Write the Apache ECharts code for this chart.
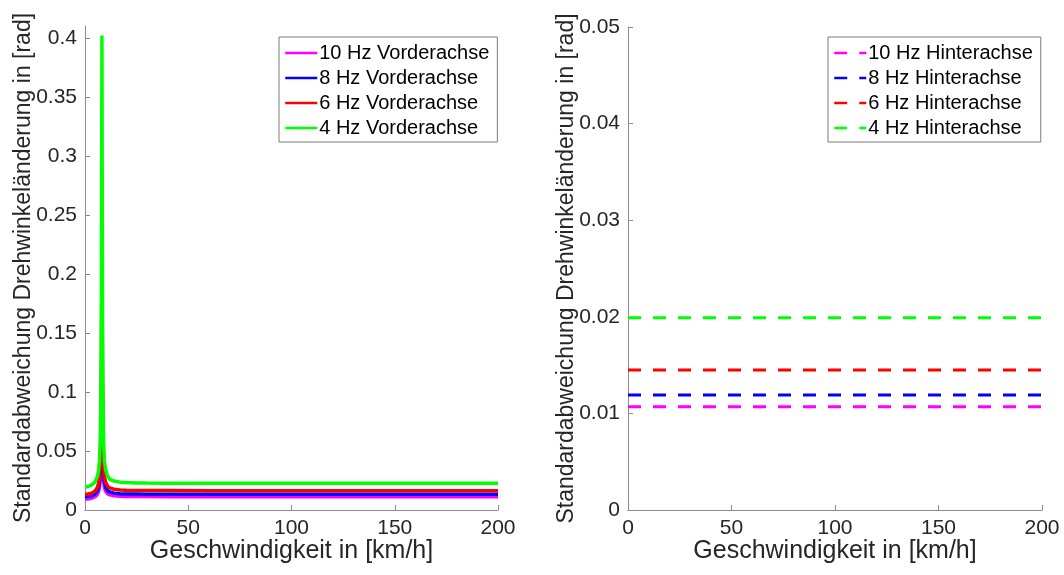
<!DOCTYPE html>
<html>
<head>
<meta charset="utf-8">
<script src="https://cdn.jsdelivr.net/npm/echarts@6/dist/echarts.min.js"></script>
<style>
  html, body { margin: 0; padding: 0; background: #fff; }
  #chart { width: 1064px; height: 575px; }
</style>
</head>
<body>
<div id="chart"></div>
<script>
// Geschwindigkeit (km/h), Stützstellen der Vorderachs-Kurven
const speeds = [0, 1, 2, 3, 4, 5, 6, 6.5, 7, 7.4, 7.7, 7.9, 8.05, 8.2, 8.35, 8.5, 8.7, 9, 9.4, 10, 11, 12, 14, 17, 20, 25, 30, 40, 60, 100, 150, 200]

// Vorderachse (links)
const front10 = [0.0093, 0.0094, 0.0096, 0.0099, 0.0105, 0.0114, 0.0132, 0.0152, 0.019, 0.026, 0.038, 0.060, 0.085, 0.100, 0.085, 0.060, 0.038, 0.025, 0.0190, 0.0160, 0.0137, 0.0128, 0.0121, 0.0117, 0.0115, 0.0114, 0.0114, 0.0113, 0.0113, 0.0113, 0.0113, 0.0113]
const front8 = [0.0113, 0.0114, 0.0116, 0.0120, 0.0127, 0.0138, 0.0160, 0.0185, 0.023, 0.032, 0.048, 0.078, 0.115, 0.140, 0.115, 0.078, 0.048, 0.031, 0.0230, 0.0192, 0.0163, 0.0152, 0.0143, 0.0138, 0.0136, 0.0135, 0.0134, 0.0134, 0.0133, 0.0133, 0.0133, 0.0133]
const front6 = [0.0133, 0.0134, 0.0137, 0.0142, 0.0150, 0.0163, 0.0192, 0.0222, 0.028, 0.040, 0.062, 0.105, 0.165, 0.205, 0.165, 0.105, 0.062, 0.038, 0.028, 0.0235, 0.0200, 0.0187, 0.0176, 0.0170, 0.0168, 0.0166, 0.0165, 0.0165, 0.0164, 0.0164, 0.0164, 0.0164]
const front4 = [0.0195, 0.0197, 0.0202, 0.0210, 0.0222, 0.0242, 0.0285, 0.0330, 0.0420, 0.060, 0.095, 0.160, 0.270, 0.402, 0.270, 0.160, 0.095, 0.058, 0.042, 0.034, 0.0285, 0.0262, 0.0245, 0.0236, 0.0232, 0.0229, 0.0228, 0.0227, 0.0226, 0.0226, 0.0226, 0.0226]

// Hinterachse (rechts), konstant über der Geschwindigkeit
const rearSpeeds = [0, 200]
const rear10 = [0.0107, 0.0107]
const rear8 = [0.0119, 0.0119]
const rear6 = [0.0145, 0.0145]
const rear4 = [0.0199, 0.0199]

const freqs = ['10 Hz', '8 Hz', '6 Hz', '4 Hz']
const colors = ['#ff00ff', '#0000ff', '#ff0000', '#00ff00']

const xTicks = [0, 50, 100, 150, 200]
const leftYTicks = [0, 0.05, 0.1, 0.15, 0.2, 0.25, 0.3, 0.35, 0.4]
const rightYTicks = [0, 0.01, 0.02, 0.03, 0.04, 0.05]

const font = 'Liberation Sans, Arial, Helvetica, sans-serif'
const textColor = '#262626'
const axisGray = '#8c8c8c'

const chart = echarts.init(document.getElementById('chart'))

function pairs(xs, ys) {
  return xs.map((x, i) => [x, ys[i]])
}

function xAxis(gridIndex) {
  return {
    type: 'value',
    gridIndex: gridIndex,
    min: 0,
    max: 200,
    interval: 50,
    name: 'Geschwindigkeit in [km/h]',
    nameLocation: 'middle',
    nameGap: 29,
    nameMoveOverlap: false,
    nameTextStyle: { fontFamily: font, fontSize: 25, color: textColor },
    axisLine: { show: true, lineStyle: { color: axisGray, width: 1 } },
    axisTick: { show: true, inside: true, length: 5, lineStyle: { color: axisGray } },
    axisLabel: {
      fontFamily: font, fontSize: 21, color: textColor, margin: 8,
      customValues: xTicks
    },
    splitLine: { show: false }
  }
}

function yAxis(gridIndex, max, interval, ticks) {
  return {
    type: 'value',
    gridIndex: gridIndex,
    min: 0,
    max: max,
    interval: interval,
    name: 'Standardabweichung Drehwinkeländerung in [rad]',
    nameLocation: 'middle',
    nameGap: 50,
    nameMoveOverlap: false,
    nameTextStyle: { fontFamily: font, fontSize: 23, color: textColor },
    axisLine: { show: true, lineStyle: { color: axisGray, width: 1 } },
    axisTick: { show: true, inside: true, length: 5, lineStyle: { color: axisGray }, customValues: ticks },
    axisLabel: {
      fontFamily: font, fontSize: 21, color: textColor, margin: 8,
      customValues: ticks
    },
    splitLine: { show: false }
  }
}

const frontData = [front10, front8, front6, front4]
const rearData = [rear10, rear8, rear6, rear4]

const series = []
frontData.forEach((d, i) => {
  series.push({
    name: freqs[i] + ' Vorderachse',
    type: 'line',
    xAxisIndex: 0,
    yAxisIndex: 0,
    symbol: 'none',
    animation: false,
    color: colors[i],
    lineStyle: { width: 3.5, color: colors[i] },
    data: pairs(speeds, d)
  })
})
rearData.forEach((d, i) => {
  series.push({
    name: freqs[i] + ' Hinterachse',
    type: 'line',
    xAxisIndex: 1,
    yAxisIndex: 1,
    symbol: 'none',
    animation: false,
    color: colors[i],
    lineStyle: { width: 3, color: colors[i], type: [13, 12] },
    data: pairs(rearSpeeds, d)
  })
})

const legendBase = {
  orient: 'vertical',
  top: 37,
  itemWidth: 32,
  itemHeight: 14,
  itemGap: 5,
  padding: [6, 8, 4, 5],
  borderColor: '#7a7a7a',
  borderWidth: 1,
  backgroundColor: '#fff',
  itemStyle: { opacity: 0 },
  lineStyle: { width: 2.5 },
  textStyle: { fontFamily: font, fontSize: 20, lineHeight: 20, color: '#000', padding: [0, 0, 0, -3] }
}

const option = {
  backgroundColor: '#fff',
  animation: false,
  grid: [
    { left: 85, right: 566, top: 26, bottom: 65 },
    { left: 628, right: 22, top: 27, bottom: 65 }
  ],
  xAxis: [xAxis(0), xAxis(1)],
  yAxis: [
    yAxis(0, 0.41, 0.05, leftYTicks),
    yAxis(1, 0.05, 0.01, rightYTicks)
  ],
  legend: [
    Object.assign({}, legendBase, { left: 279, data: freqs.map(f => f + ' Vorderachse') }),
    Object.assign({}, legendBase, { left: 828, data: freqs.map(f => f + ' Hinterachse') })
  ],
  series: series
}

chart.setOption(option)
</script>
</body>
</html>
